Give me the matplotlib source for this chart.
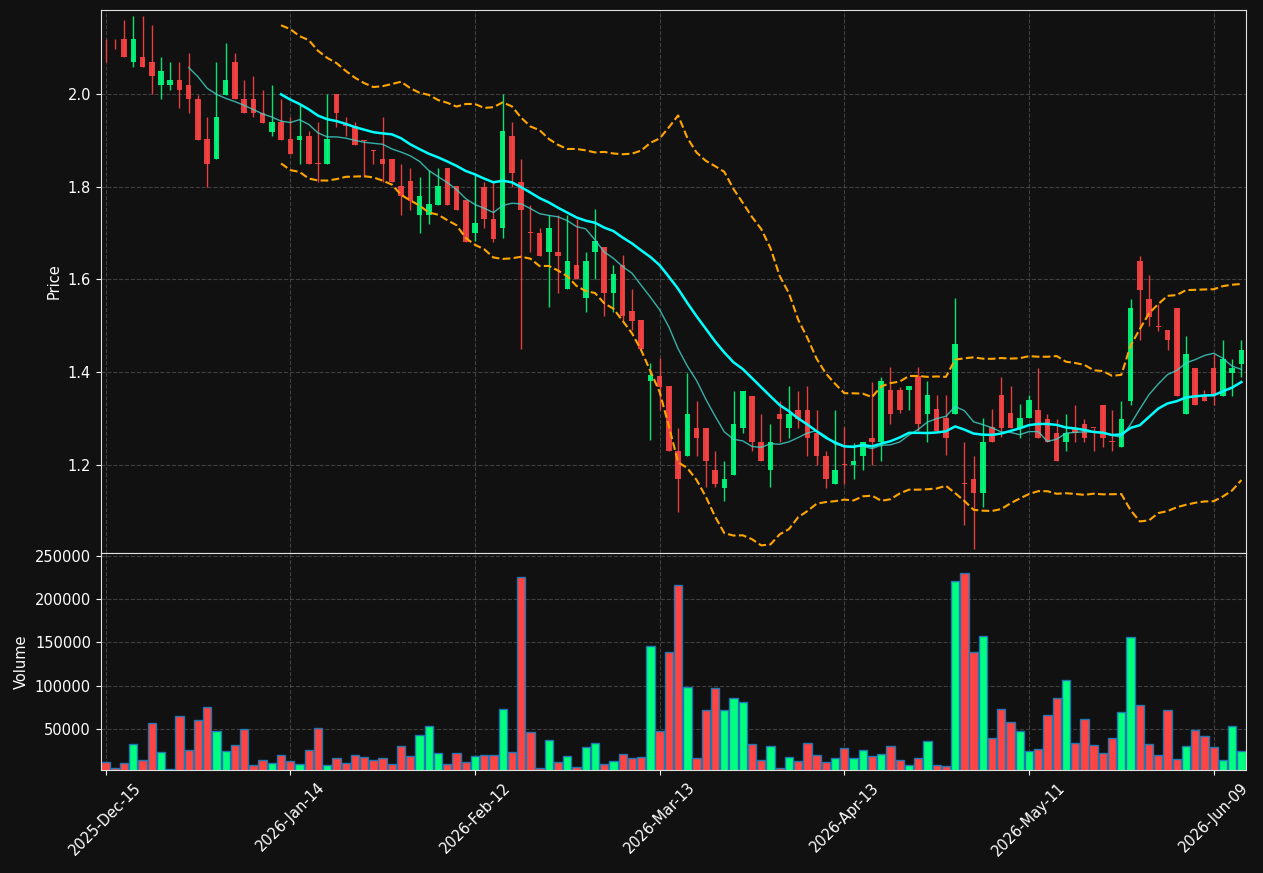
import numpy as np
import pandas as pd
import matplotlib
matplotlib.use("Agg")
import matplotlib.pyplot as plt

# ---------------- data ----------------
tick_labels = ['2025-Dec-15', '2026-Jan-14', '2026-Feb-12', '2026-Mar-13',
               '2026-Apr-13', '2026-May-11', '2026-Jun-09']

opens = [2.099, 2.099, 2.119, 2.068, 2.080, 2.0695, 2.0186, 2.019, 2.031, 2.020,
         1.990, 1.902, 1.8595, 1.9986, 2.0695, 1.990, 1.990, 1.960, 1.919, 1.9405,
         1.902, 1.900, 1.910, 1.851, 1.849, 2.000, 1.935, 1.9305, 1.9003, 1.8796,
         1.860, 1.860, 1.8007, 1.8115, 1.739, 1.739, 1.7606, 1.841, 1.8007, 1.7706,
         1.700, 1.800, 1.731, 1.7106, 1.910, 1.811, 1.701, 1.7005, 1.659, 1.660,
         1.579, 1.632, 1.560, 1.659, 1.671, 1.5705, 1.632, 1.531, 1.5117, 1.381,
         1.392, 1.3694, 1.231, 1.219, 1.280, 1.280, 1.1892, 1.1495, 1.1784, 1.280,
         1.3492, 1.2497, 1.1892, 1.3103, 1.280, 1.3189, 1.3189, 1.2685, 1.2202, 1.159,
         1.2005, 1.1993, 1.2195, 1.2592, 1.249, 1.361, 1.361, 1.361, 1.392, 1.3105,
         1.3199, 1.3003, 1.3105, 1.1608, 1.1704, 1.140, 1.2809, 1.3509, 1.3112, 1.2801,
         1.3003, 1.3189, 1.2995, 1.2699, 1.249, 1.280, 1.2894, 1.2805, 1.3297, 1.2502,
         1.2382, 1.3377, 1.6396, 1.5589, 1.4995, 1.4905, 1.5395, 1.3103, 1.4097, 1.3485,
         1.4097, 1.3485, 1.3982, 1.4184]

highs = [2.118, 2.118, 2.160, 2.168, 2.168, 2.149, 2.080, 2.0695, 2.0695, 2.088,
         1.9986, 1.9505, 2.0688, 2.110, 2.088, 2.031, 2.039, 2.009, 2.019, 1.990,
         1.9505, 1.977, 1.920, 1.9405, 2.000, 2.000, 1.9505, 1.9405, 1.9003, 1.8796,
         1.9505, 1.860, 1.849, 1.841, 1.8215, 1.837, 1.841, 1.841, 1.8007, 1.7706,
         1.826, 1.810, 1.810, 2.000, 1.9397, 1.860, 1.761, 1.711, 1.738, 1.739,
         1.739, 1.731, 1.659, 1.751, 1.671, 1.632, 1.652, 1.580, 1.5117, 1.4205,
         1.430, 1.3694, 1.280, 1.399, 1.3377, 1.280, 1.2295, 1.2087, 1.3593, 1.3593,
         1.3492, 1.3103, 1.2886, 1.339, 1.3694, 1.3593, 1.3694, 1.3189, 1.2295, 1.3189,
         1.281, 1.2484, 1.2505, 1.3798, 1.3906, 1.4108, 1.3682, 1.3697, 1.4108, 1.3805,
         1.350, 1.350, 1.5603, 1.2505, 1.2202, 1.3003, 1.3199, 1.3906, 1.3704, 1.3307,
         1.350, 1.4097, 1.3103, 1.2995, 1.3103, 1.3297, 1.2995, 1.2805, 1.3297, 1.3189,
         1.3384, 1.5589, 1.6505, 1.6094, 1.5481, 1.4905, 1.5395, 1.4789, 1.4097, 1.3607,
         1.440, 1.4703, 1.4292, 1.4703]

lows = [2.069, 2.097, 2.079, 2.059, 2.059, 2.000, 1.989, 2.0086, 1.969, 1.959,
        1.900, 1.800, 1.8595, 1.9986, 1.9885, 1.958, 1.950, 1.938, 1.909, 1.900,
        1.870, 1.849, 1.849, 1.810, 1.849, 1.929, 1.909, 1.890, 1.821, 1.849,
        1.810, 1.810, 1.740, 1.750, 1.701, 1.720, 1.7606, 1.7606, 1.750, 1.681,
        1.682, 1.711, 1.681, 1.690, 1.800, 1.4506, 1.659, 1.650, 1.541, 1.571,
        1.579, 1.600, 1.530, 1.601, 1.521, 1.530, 1.5095, 1.492, 1.4506, 1.253,
        1.319, 1.2295, 1.0984, 1.219, 1.2202, 1.1517, 1.1517, 1.1214, 1.1784, 1.2692,
        1.231, 1.208, 1.1517, 1.249, 1.2584, 1.280, 1.2202, 1.200, 1.150, 1.159,
        1.159, 1.1704, 1.1899, 1.200, 1.2094, 1.2895, 1.3112, 1.3191, 1.2736, 1.2505,
        1.2736, 1.2209, 1.3105, 1.0707, 1.0188, 1.109, 1.249, 1.2606, 1.2801, 1.2592,
        1.3003, 1.2584, 1.2497, 1.208, 1.2295, 1.249, 1.249, 1.2295, 1.2382, 1.2295,
        1.2382, 1.3297, 1.4703, 1.4991, 1.4883, 1.4487, 1.3485, 1.3103, 1.3297, 1.3377,
        1.3297, 1.3485, 1.3485, 1.3896]

closes = [2.098, 2.098, 2.079, 2.119, 2.059, 2.038, 2.050, 2.031, 2.008, 1.9885,
          1.900, 1.849, 1.951, 2.031, 1.9885, 1.958, 1.958, 1.938, 1.9405, 1.900,
          1.870, 1.910, 1.849, 1.849, 1.902, 1.958, 1.931, 1.890, 1.899, 1.878,
          1.849, 1.810, 1.780, 1.769, 1.781, 1.762, 1.8007, 1.7606, 1.750, 1.681,
          1.721, 1.730, 1.688, 1.921, 1.829, 1.749, 1.700, 1.650, 1.712, 1.650,
          1.640, 1.600, 1.640, 1.682, 1.5705, 1.611, 1.521, 1.510, 1.4506, 1.393,
          1.369, 1.2295, 1.169, 1.310, 1.2584, 1.208, 1.159, 1.1697, 1.2886, 1.3593,
          1.249, 1.208, 1.2497, 1.2987, 1.3103, 1.2987, 1.2584, 1.2202, 1.169, 1.1892,
          1.1995, 1.2094, 1.2505, 1.249, 1.3805, 1.3105, 1.3191, 1.3697, 1.2888, 1.350,
          1.2736, 1.2585, 1.4614, 1.1598, 1.140, 1.2505, 1.249, 1.2801, 1.2801, 1.3011,
          1.340, 1.2584, 1.2497, 1.208, 1.2699, 1.2685, 1.2577, 1.2795, 1.2577, 1.2492,
          1.2995, 1.5395, 1.5777, 1.5193, 1.4985, 1.4703, 1.3485, 1.440, 1.3297, 1.3377,
          1.3485, 1.4292, 1.4097, 1.4487]

volumes = [11600, 4700, 10500, 32600, 14000, 57000, 23300, 3500, 65100, 25600,
           60500, 75600, 47700, 24400, 31400, 50000, 8100, 14000, 10500, 19800,
           12800, 9300, 25600, 51200, 8100, 16300, 10500, 19800, 17400, 14000,
           16300, 9300, 30200, 18600, 43000, 53500, 22100, 9300, 22100, 11600,
           18600, 19800, 19800, 73300, 23300, 225800, 46500, 4700, 37200, 11600,
           18600, 5800, 29100, 33700, 9300, 12800, 20900, 16300, 17400, 145500,
           47700, 138500, 216500, 98900, 16300, 72200, 97800, 72200, 86100, 81500,
           32600, 14000, 30200, 4700, 17400, 12800, 33700, 19800, 11600, 16300,
           27900, 16300, 25600, 18600, 20900, 30200, 14000, 8100, 16300, 36000,
           8100, 7000, 221000, 230200, 138500, 157000, 39500, 73300, 58100, 47700,
           24400, 26700, 66300, 86100, 107000, 33700, 61700, 31400, 22100, 39500,
           69800, 155800, 77900, 32600, 19800, 72200, 15100, 30200, 48800, 41900,
           29100, 14000, 53500, 24400]

# ---------------- styling ----------------
BG = '#111111'
UP = '#00ff7f'
DOWN = '#ff4444'
GRID = '#555555'
FS = 10.5

df = pd.DataFrame({'open': opens, 'high': highs, 'low': lows,
                   'close': closes, 'volume': volumes})
x = np.arange(len(df))
ma10 = df['close'].rolling(10).mean()
ma20 = df['close'].rolling(20).mean()
std20 = df['close'].rolling(20).std()
bb_up = ma20 + 2 * std20
bb_lo = ma20 - 2 * std20

up = df['close'] >= df['open']
colors = np.where(up, UP, DOWN)

fig = plt.figure(figsize=(12.63, 8.73), dpi=100, facecolor=BG)
ax1 = fig.add_axes([101 / 1263, 1 - 553 / 873, 1145 / 1263, 543 / 873])
ax2 = fig.add_axes([101 / 1263, 1 - 770 / 873, 1145 / 1263, 217 / 873], sharex=ax1)

for ax in (ax1, ax2):
    ax.set_facecolor(BG)
    for s in ax.spines.values():
        s.set_color('#e0e0e0')
    ax.tick_params(colors='white', labelsize=FS, length=3.7)
    ax.grid(True, color=GRID, linestyle='--', linewidth=0.8, alpha=0.7)
    ax.set_axisbelow(True)

# candles
ax1.vlines(x, df['low'], df['high'], colors=colors, linewidth=1, alpha=0.9)
body_lo = np.minimum(df['open'], df['close'])
body_h = np.maximum(np.abs(df['close'] - df['open']), 0.0018)
ax1.bar(x, body_h, bottom=body_lo, width=0.6, color=colors, alpha=0.9, linewidth=0)

# indicators
ax1.plot(x, ma10, color='#40d8cc', linewidth=1, alpha=0.8)
ax1.plot(x, ma20, color='#00ffff', linewidth=1.8)
ax1.plot(x, bb_up, color='orange', linestyle='--', linewidth=1.5)
ax1.plot(x, bb_lo, color='orange', linestyle='--', linewidth=1.5)

ax1.set_ylim(1.0103, 2.181)
ax1.set_ylabel('Price', color='white', fontsize=FS)
ax1.tick_params(axis='x', labelbottom=False)

# volume
ax2.bar(x, df['volume'], width=0.9, color=colors, edgecolor='#1f77b4', linewidth=1)
ax2.set_ylim(2500, df['volume'].max() * 1.1)
ax2.set_ylabel('Volume', color='white', fontsize=FS)

ax2.set_xlim(-0.5, len(df) - 0.5)
ticks = np.arange(0, len(df), 20)
ax2.set_xticks(ticks)
ax2.set_xticklabels(tick_labels, rotation=45)

fig.savefig('out.png', dpi=100, facecolor=BG)
